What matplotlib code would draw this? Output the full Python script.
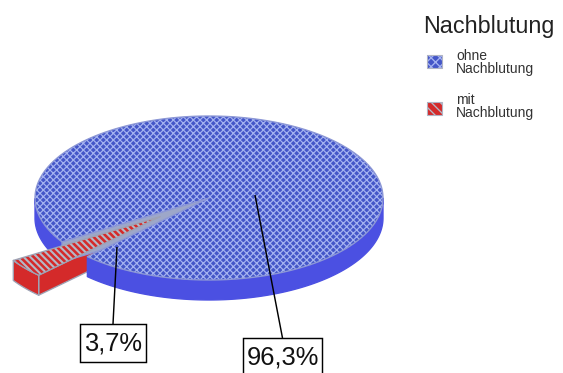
import numpy as np
import matplotlib
matplotlib.use('Agg')
import matplotlib.pyplot as plt
from matplotlib.patches import Polygon, Rectangle

# ---- data ----
categories = ['ohne\nNachblutung', 'mit\nNachblutung']
values = [96.3, 3.7]
pct_labels = ['96,3%', '3,7%']
legend_title = 'Nachblutung'

# ---- style / layout ----
DPI = 80
W, H = 563, 373
plt.rcParams['font.family'] = ['Liberation Sans', 'DejaVu Sans']

top_colors = ['#4456c8', '#d42a2a']
hatch_colors = ['#a4b2f0', '#b4b8c6']
hatches = ['xxxx', '\\\\\\\\']
side_colors = ['#4b50e2', '#d42a2a']
wall_colors = ['#9da7c9', '#d42a2a']
edge_colors = ['#8d98d6', '#9ea3b5']
explode = [0.0, 0.36]

cx, cy, a, b, h = 209, 198, 174, 82, 20
start = 225.65

fig = plt.figure(figsize=(W / DPI, H / DPI), dpi=DPI)
ax = fig.add_axes([0, 0, 1, 1])
ax.set_xlim(0, W)
ax.set_ylim(H, 0)
ax.axis('off')


def pt(t, ox=0.0, oy=0.0, dz=0.0, r=1.0):
    tr = np.radians(t)
    return np.array([cx + ox + r * a * np.cos(tr), cy + oy - r * b * np.sin(tr) + dz])


def hatched_poly(xy, fc, hc, hatch, ec, lw, z, hlw):
    ax.add_patch(Polygon(xy, closed=True, fc=fc, ec='none', lw=0, zorder=z))
    plt.rcParams['hatch.linewidth'] = hlw
    ax.add_patch(Polygon(xy, closed=True, fill=False, ec=hc, lw=0, hatch=hatch, zorder=z))
    ax.add_patch(Polygon(xy, closed=True, fill=False, ec=ec, lw=lw, zorder=z,
                         joinstyle='round'))


fracs = np.array(values) / np.sum(values)
bounds = start + 360 * np.concatenate([[0], np.cumsum(fracs)])

slices = []
for i in range(len(values)):
    t0, t1 = bounds[i], bounds[i + 1]
    mid = np.radians((t0 + t1) / 2)
    ox = explode[i] * a * np.cos(mid)
    oy = -explode[i] * b * np.sin(mid)
    slices.append((t0, t1, ox, oy))


def draw_band(i, z):
    t0, t1, ox, oy = slices[i]
    ts = np.linspace(t0, t1, 600)
    vis = np.sin(np.radians(ts)) < 0
    segs = []
    cur = []
    for t, v in zip(ts, vis):
        if v:
            cur.append(t)
        elif cur:
            segs.append(cur)
            cur = []
    if cur:
        segs.append(cur)
    for seg in segs:
        top = [pt(t, ox, oy) for t in seg]
        bot = [pt(t, ox, oy, h) for t in seg[::-1]]
        ec = side_colors[i] if i == 0 else edge_colors[i]
        ax.add_patch(Polygon(top + bot, closed=True, fc=side_colors[i], ec=ec,
                             lw=1.2, zorder=z, joinstyle='round'))


def draw_wall(i, z):
    t0, t1, ox, oy = slices[i]
    for t, sign in ((t0, 1), (t1, -1)):
        # a radial wall is visible only if it faces the viewer
        if sign * np.cos(np.radians(t)) <= 0:
            continue
        c = np.array([cx + ox, cy + oy])
        p = pt(t, ox, oy)
        poly = [c, p, p + [0, h], c + [0, h]]
        ax.add_patch(Polygon(poly, closed=True, fc=wall_colors[i], ec=edge_colors[i],
                             lw=1.2, zorder=z, joinstyle='round'))


def draw_top(i, z):
    t0, t1, ox, oy = slices[i]
    ts = np.linspace(t0, t1, 600)
    poly = [np.array([cx + ox, cy + oy])] + [pt(t, ox, oy) for t in ts]
    hatched_poly(poly, top_colors[i], hatch_colors[i], hatches[i], edge_colors[i],
                 1.2, z, 1.1 if i == 0 else 1.9)


draw_wall(1, 1)
draw_band(1, 2)
draw_band(0, 3)
draw_wall(0, 4)
draw_top(0, 5)
draw_top(1, 6)

# ---- percentage labels ----
label_anchor = [(255, 195), (117, 247)]
label_box = [(243, 338, 79, 37), (80, 324, 66, 38)]   # x, y, w, h in pixels
for i in range(len(values)):
    bx, by, bw, bh = label_box[i]
    ax.add_patch(Rectangle((bx, by), bw, bh, fc='white', ec='black', lw=1.3, zorder=10))
    ax.text(bx + bw / 2, by + bh / 2 + 1, pct_labels[i], ha='center', va='center',
            fontsize=23, color='#111111', zorder=11)
    ax.plot([label_anchor[i][0], bx + bw / 2], [label_anchor[i][1], by],
            color='black', lw=1.3, zorder=9, solid_capstyle='butt')

# ---- legend ----
ax.text(489, 27, legend_title, ha='center', va='center', fontsize=21, color='#222222')
icon_y = [55, 102]
text_y = [49, 93]
for i in range(len(values)):
    r = [(427, icon_y[i]), (442, icon_y[i]), (442, icon_y[i] + 13), (427, icon_y[i] + 13)]
    hatched_poly(r, top_colors[i], hatch_colors[i], 'xxx' if i == 0 else '\\\\\\',
                 '#b0b4c4', 1.0, 7, 1.2)
    ax.text(456, text_y[i], categories[i], ha='left', va='top', fontsize=12.5,
            linespacing=0.95, color='#333333')

fig.savefig('out.png', dpi=DPI)
